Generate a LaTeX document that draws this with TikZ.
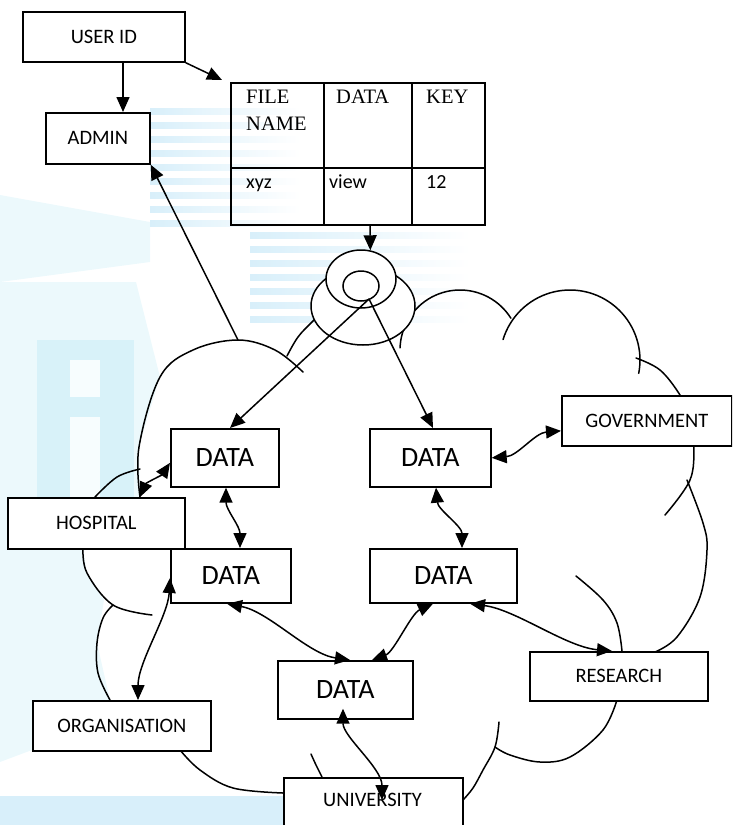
\documentclass[tikz,border=0pt]{standalone}
\usepackage{fontspec}
\setmainfont{Carlito}
\newfontfamily\tablefont{Liberation Serif}
\usetikzlibrary{arrows.meta,shapes.geometric}

\definecolor{wmlight}{RGB}{236,249,252}
\definecolor{wmmid}{RGB}{216,242,249}
\definecolor{wmband}{RGB}{216,239,250}

\begin{document}
\begin{tikzpicture}[x=1pt,y=-1pt,
  box/.style={draw,line width=1.7pt,fill=white,inner sep=0pt,anchor=north west,
    font=\fontsize{20.5}{24}\selectfont},
  databox/.style={box,font=\fontsize{28}{32}\selectfont},
  cell/.style={draw,line width=1.7pt,inner sep=0pt,anchor=north west},
  headtext/.style={anchor=base west,inner sep=0pt,font=\tablefont\fontsize{20.5}{24}\selectfont},
  valtext/.style={anchor=base west,inner sep=0pt,font=\fontsize{20}{24}\selectfont},
  disk/.style={ellipse,draw,line width=1.5pt,fill=white,inner sep=0pt},
  cloudline/.style={line width=1.5pt,line cap=round},
  link/.style={line width=1.5pt,-{Triangle[length=15pt,width=13pt]}},
  dlink/.style={line width=1.5pt,{Triangle[length=15pt,width=13pt]}-{Triangle[length=15pt,width=13pt]}},
  streak/.style={left color=wmband,right color=white,draw=none},
]
\useasboundingbox (0,0) rectangle (732,825);
\clip (0,0) rectangle (732,825);

% ---------------- faint background print ----------------
\fill[wmlight] (0,195) -- (150,222) -- (150,262) -- (0,282) -- cycle;
\fill[wmlight] (0,282) -- (136,282) -- (160,377) -- (139,447) -- (140,497)
  -- (83,548) -- (87,573) -- (104,600) -- (97,643) -- (110,700)
  -- (32,700) -- (32,750) -- (0,762) -- cycle;
% block letter
\fill[wmmid] (37,340) rectangle (134,500);
\fill[wmlight!40!white] (70,360) rectangle (100,397);
\fill[wmlight!40!white] (70,417) rectangle (100,500);
\foreach \yy in {108,122,136,150,164,178,192,206,220} {
  \shade[streak] (150,\yy) rectangle (300,\yy+6);
}
\foreach \yy in {232,246,260,274,288,302,316} {
  \shade[streak] (250,\yy) rectangle (470,\yy+6);
}
\fill[wmband] (0,796) rectangle (283,825);

% ---------------- cloud outline ----------------
\coordinate (cloudtop) at (238,340);
\fill[white] (140,497) -- (139,447) -- (160,377) -- (238,340) -- (303,372) -- (330,330) -- (470,330) -- (470,560) -- (180,560) -- cycle;
\draw[cloudline] plot[smooth,tension=0.6] coordinates {(140,497) (139,447) (160,377) (193,350) (238,340) (275,350) (303,372)};
\draw[cloudline] plot[smooth,tension=0.6] coordinates {(287,356) (298,337) (313,321) (330,305)};
\draw[cloudline] plot[domain=182:328,samples=40] ({460+60*cos(\x)},{350+60*sin(\x)});
\draw[cloudline] plot[domain=197:371,samples=50] ({570+70*cos(\x)},{360+70*sin(\x)});
\draw[cloudline] plot[smooth,tension=0.6] coordinates {(636,358) (660,370) (680,395) (692,420) (694,445) (690,480) (665,515)};
\draw[cloudline] plot[smooth,tension=0.6] coordinates {(687,480) (703,523) (707,550) (700,597) (677,637) (655,652)};
\draw[cloudline] plot[smooth,tension=0.6] coordinates {(576,576) (603,600) (617,623) (622,651)};
\draw[cloudline] plot[smooth,tension=0.6] coordinates {(617,700) (603,730) (570,757) (540,762) (510,755) (495,747)};
\draw[cloudline] plot[smooth,tension=0.6] coordinates {(499,722) (495,747) (483,770) (473,788) (463,800)};
\draw[cloudline] plot[smooth,tension=0.6] coordinates {(180,750) (200,770) (233,788) (283,793)};
\draw[cloudline] plot[smooth,tension=0.6] coordinates {(311,754) (316,765) (322,777)};
\draw[cloudline] plot[smooth,tension=0.6] coordinates {(113,605) (103,618) (97,643) (98,673) (110,700)};
\draw[cloudline] plot[smooth,tension=0.6] coordinates {(83,548) (87,573) (113,605) (152,615)};
\draw[cloudline] plot[smooth,tension=0.6] coordinates {(95,497) (117,477) (140,469)};

% ---------------- top boxes ----------------
\node[box,minimum width=162pt,minimum height=50pt] (userid) at (22,11) {USER ID};
\node[box,minimum width=104pt,minimum height=51pt] (admin) at (45,112) {ADMIN};

% ---------------- file table ----------------
\node[cell,minimum width=93pt,minimum height=85pt] (c11) at (230,82) {};
\node[cell,minimum width=88pt,minimum height=85pt] (c12) at (323,82) {};
\node[cell,minimum width=73pt,minimum height=85pt] (c13) at (411,82) {};
\node[cell,minimum width=93pt,minimum height=57pt] (c21) at (230,167) {};
\node[cell,minimum width=88pt,minimum height=57pt] (c22) at (323,167) {};
\node[cell,minimum width=73pt,minimum height=57pt] (c23) at (411,167) {};
\node[headtext] (h1a) at (246,103) {FILE};
\node[headtext] (h1b) at (246,130) {NAME};
\node[headtext] (h2) at (336,103) {DATA};
\node[headtext] (h3) at (426,103) {KEY};
\node[valtext] (v1) at (246,188) {xyz};
\node[valtext] (v2) at (329,188) {view};
\node[valtext] (v3) at (426,188) {12};

% ---------------- storage disk ----------------
\node[disk,minimum width=104pt,minimum height=78pt] (diskout) at (363,306) {};
\node[disk,minimum width=70pt,minimum height=58pt] (diskmid) at (361,279) {};
\node[disk,minimum width=36pt,minimum height=30pt] (diskin) at (361,286) {};
\coordinate (hub) at (369,299);

% ---------------- data stores and parties ----------------
\node[databox,minimum width=108pt,minimum height=58pt] (data1) at (170,428) {DATA};
\node[databox,minimum width=121pt,minimum height=58pt] (data2) at (369,428) {DATA};
\node[databox,minimum width=120pt,minimum height=54pt] (data3) at (170,548) {DATA};
\node[databox,minimum width=147pt,minimum height=54pt] (data4) at (369,548) {DATA};
\node[databox,minimum width=135pt,minimum height=58pt] (data5) at (277,660) {DATA};
\node[box,minimum width=170pt,minimum height=50pt] (gov) at (561,395) {GOVERNMENT};
\node[box,minimum width=177pt,minimum height=51pt] (hospital) at (7,497) {HOSPITAL};
\node[box,minimum width=178pt,minimum height=49pt] (research) at (529,651) {RESEARCH};
\node[box,minimum width=178pt,minimum height=50pt] (org) at (32,700) {ORGANISATION};
\node[box,minimum width=179pt,minimum height=60pt] (univ) at (283,777) {};
\node[inner sep=0pt,font=\fontsize{20.5}{24}\selectfont] (univtext) at (372.5,800) {UNIVERSITY};

% ---------------- one-way links ----------------
\draw[link] ([xshift=101pt]userid.south west) -- ([xshift=78pt]admin.north west);
\draw[link] (userid.south east) -- ([xshift=-8pt,yshift=2pt]c11.north west);
\draw[link] (cloudtop) -- (admin.south east);
\draw[link] ([xshift=47pt]c22.south west) -- (diskmid.72);
\draw[link] (hub) -- ([xshift=60pt]data1.north west);
\draw[link] (hub) -- ([xshift=64pt]data2.north west);

% ---------------- two-way links ----------------
\draw[dlink] ([xshift=133pt]hospital.north west) .. controls +(6,-14) and +(-8,12) .. ([yshift=-5pt]data1.west);
\draw[dlink] ([xshift=56pt]data1.south west) .. controls +(0,22) and +(0,-22) .. ([xshift=70pt]data3.north west);
\draw[dlink] ([yshift=-30pt]data3.north west) .. controls +(-2,38) and +(0,-38) .. ([xshift=106pt]org.north west);
\draw[dlink] ([xshift=57pt]data3.south west) .. controls +(42,8) and +(-42,-6) .. ([xshift=73pt]data5.north west);
\draw[dlink] ([xshift=64pt]data4.south west) .. controls +(-22,10) and +(22,-8) .. ([xshift=95pt]data5.north west);
\draw[dlink] ([xshift=67pt]data2.south west) .. controls +(2,22) and +(0,-22) .. ([xshift=93pt]data4.north west);
\draw[dlink] (data2.east) .. controls +(26,-2) and +(-26,2) .. ([yshift=-10pt]gov.west);
\draw[dlink] ([xshift=101pt]data4.south west) .. controls +(46,6) and +(-46,-4) .. ([xshift=83pt]research.north west);
\draw[dlink] ([xshift=66pt,yshift=11pt]data5.south west) .. controls +(0,28) and +(0,-32) .. ([xshift=99pt,yshift=-23pt]univ.north west);
\end{tikzpicture}
\end{document}
